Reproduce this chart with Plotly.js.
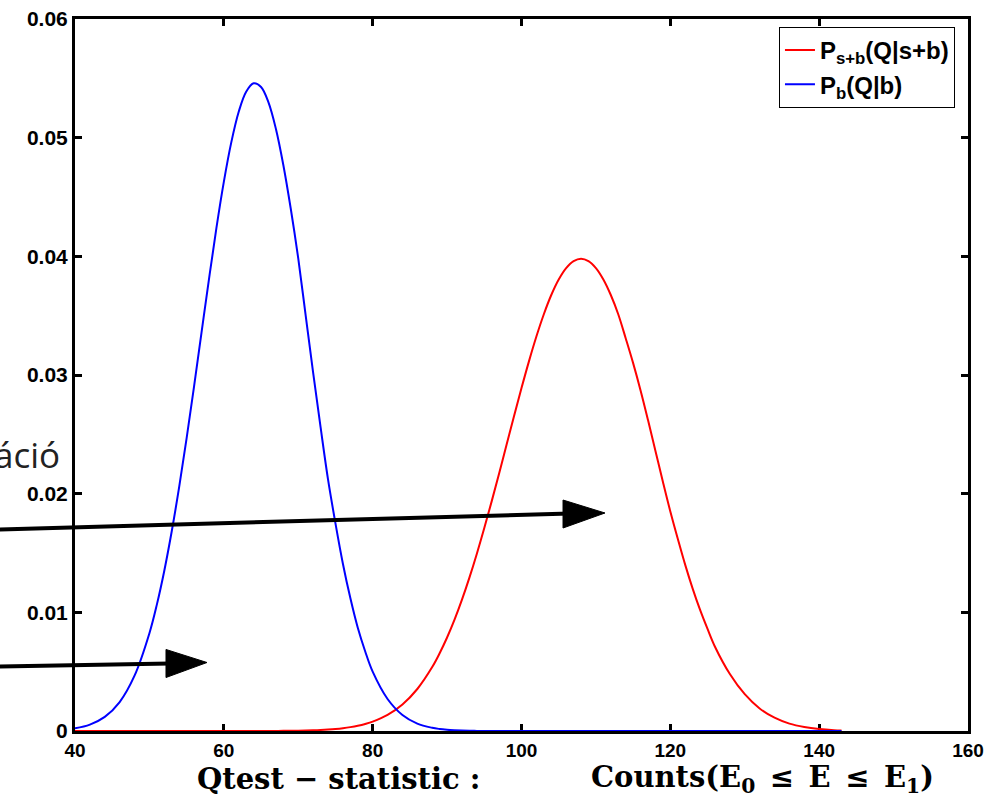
<!DOCTYPE html>
<html>
<head>
<meta charset="utf-8">
<script src="https://cdn.plot.ly/plotly-3.0.1.min.js"></script>
<style>html,body{margin:0;padding:0;background:#fff;}#chart{width:987px;height:799px;}</style>
</head>
<body>
<div id="chart"></div>
<script>
// Q statistic values (x axis)
const qValues = [40,42,44,46,48,50,
  51,52,53,54,55,56,57,58,59,60,61,62,63,64,65,66,67,68,69,70,71,72,73,74,75,76,77,78,79,80,
  82,84,86,88,
  89,90,91,92,93,94,95,96,97,98,99,100,101,102,103,104,105,106,107,108,109,110,111,112,113,114,115,116,117,118,119,120,121,122,123,124,125,
  126,128,130,132,134,136,138,140,142,143];

// P_{s+b}(Q|s+b) — red curve
const pSignalBkg = [0,0,0,0,0,0,
  0,0,0,0,0,0,0,0,0,0,0,0,0,0.000002,0.000004,0.000006,0.000009,0.000013,0.00002,0.000029,0.000042,0.000061,
  0.000087,0.000123,0.000172,0.000238,0.000326,0.000442,0.000594,0.00079,
  0.001355,0.002234,0.003539,0.005386,
  0.00655,0.007877,0.00938,0.011065,0.01292,0.01494,0.01710,0.01937,0.02173,0.02414,0.02655,0.0289,0.03115,
  0.03324,0.03512,0.03674,0.03805,0.03901,0.0396,0.0398,0.0396,0.03901,0.03805,0.03674,0.03512,0.0331,0.0310,
  0.0287,0.0262,0.0236,0.0210,0.0185,0.0162,0.0140,0.0120,0.0102,0.0086,
  0.0071,0.0048,0.0031,0.0019,0.00112,0.00062,0.00033,0.00016,0.00007,0.00005];

// P_b(Q|b) — blue curve
const pBkg = [0.00022,0.00054,0.00119,0.00244,0.00466,0.00824,
  0.01065,0.01351,0.01683,0.02057,0.02468,0.02905,0.03357,0.03806,0.04237,0.04627,0.04960,0.05218,0.05387,0.05458,
  0.05427,0.05297,0.05073,0.04768,0.04399,0.03982,0.0350,0.0302,0.0256,0.0212,0.0175,0.0141,0.0112,0.0087,0.0067,0.0050,
  0.0027,0.00135,0.00062,0.00027,
  0.00017,0.00011,0.00007,0.00004,0.00002,0.00001,0,0,0,0,0,0,0,0,0,0,0,0,0,0,0,0,0,0,0,0,0,0,0,0,0,0,0,0,0,0,0,
  0,0,0,0,0,0,0,0,0,0];

const seriesNames = ['P<sub>s+b</sub>(Q|s+b)', 'P<sub>b</sub>(Q|b)'];
const xTicks = [40,60,80,100,120,140,160];
const yTicks = [0,0.01,0.02,0.03,0.04,0.05,0.06];
const yTickText = ['0','0.01','0.02','0.03','0.04','0.05','0.06'];
const xTitleLeft = 'Qtest \u2212 statistic :';
const xTitleRight = 'Counts(E<sub>0</sub>\u2002\u2264\u2002E\u2002\u2264\u2002E<sub>1</sub>)';
const sideText = 'áció';

const traces = [
  {x: qValues, y: pSignalBkg, name: seriesNames[0], type: 'scatter', mode: 'lines',
   line: {color: '#ff0000', width: 2, shape: 'spline', smoothing: 1}},
  {x: qValues, y: pBkg, name: seriesNames[1], type: 'scatter', mode: 'lines',
   line: {color: '#0000ff', width: 2, shape: 'spline', smoothing: 1}}
];

const sansBold = '"Liberation Sans", Arial, sans-serif';

const axisCommon = {
  showgrid: false, zeroline: false, showline: true, linecolor: '#000', linewidth: 3,
  mirror: 'ticks', ticks: 'inside', ticklen: 7, tickwidth: 3, tickcolor: '#000',
  layer: 'below traces'
};

const titleFont = {family: '"DejaVu Serif", "Liberation Serif", serif', size: 29, color: '#000', weight: 'bold'};

const layout = {
  width: 987, height: 799,
  margin: {l: 75, r: 19, t: 19, b: 68, pad: 0},
  paper_bgcolor: '#fff', plot_bgcolor: '#fff',
  showlegend: true,
  legend: {x: 0.9854, y: 0.989, xanchor: 'right', yanchor: 'top',
    bgcolor: '#fff', bordercolor: '#000', borderwidth: 1,
    font: {family: sansBold, size: 24, color: '#000', weight: 'bold'},
    tracegroupgap: 0},
  xaxis: Object.assign({}, axisCommon, {range: [40, 160], tickmode: 'array', tickvals: xTicks,
    tickfont: {family: sansBold, size: 19, color: '#000', weight: 'bold'}}),
  yaxis: Object.assign({}, axisCommon, {range: [0, 0.06], tickmode: 'array', tickvals: yTicks, ticktext: yTickText,
    tickfont: {family: sansBold, size: 21, color: '#000', weight: 'bold'}}),
  annotations: [
    {xref: 'paper', yref: 'paper', x: (338 - 75) / 893, y: -0.0674, xanchor: 'center', yanchor: 'middle',
     text: xTitleLeft, showarrow: false, font: titleFont},
    {xref: 'paper', yref: 'paper', x: (762 - 75) / 893, y: -0.0674, xanchor: 'center', yanchor: 'middle',
     text: xTitleRight, showarrow: false, font: titleFont},
    {xref: 'paper', yref: 'paper', x: -0.0146, y: 0.388, xanchor: 'right', yanchor: 'middle',
     text: sideText, showarrow: false,
     font: {family: '"Open Sans", "Noto Sans", sans-serif', size: 35, color: '#222'}}
  ],
  shapes: [
    {type: 'line', xref: 'paper', yref: 'paper', x0: -0.084, y0: 0.2830, x1: 0.5543, y1: 0.3055,
     line: {color: '#000', width: 4}},
    {type: 'path', xref: 'paper', yref: 'paper', path: 'M 0.5935 0.3062 L 0.5465 0.3244 L 0.5465 0.2851 Z',
     fillcolor: '#000', line: {color: '#000', width: 1}},
    {type: 'line', xref: 'paper', yref: 'paper', x0: -0.084, y0: 0.0906, x1: 0.1064, y1: 0.0948,
     line: {color: '#000', width: 4}},
    {type: 'path', xref: 'paper', yref: 'paper', path: 'M 0.1478 0.0962 L 0.1019 0.1145 L 0.1019 0.0751 Z',
     fillcolor: '#000', line: {color: '#000', width: 1}}
  ]
};

Plotly.newPlot('chart', traces, layout, {displayModeBar: false, staticPlot: true});
</script>
</body>
</html>
